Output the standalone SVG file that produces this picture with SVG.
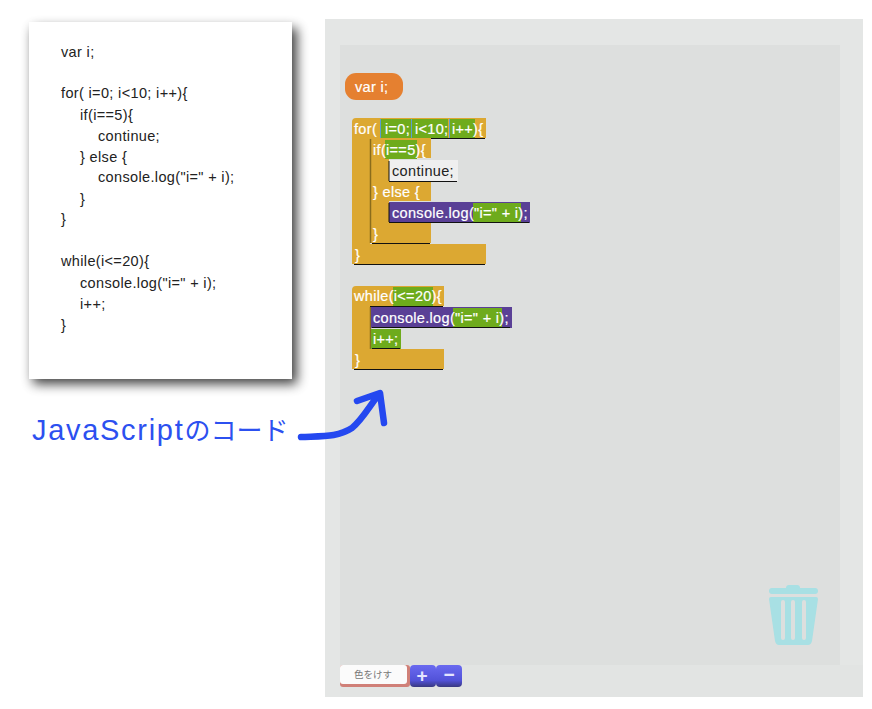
<svg xmlns="http://www.w3.org/2000/svg" width="872" height="709" viewBox="0 0 872 709">
<style>
.code{font-family:"Liberation Sans",Arial,sans-serif;font-size:14.5px;letter-spacing:.35px;fill:#222}
.b{font-family:"Liberation Sans",Arial,sans-serif;font-size:14.5px;letter-spacing:.32px;fill:#fff;stroke:#fff;stroke-width:.2px}
.k{fill:#dca832}.g{fill:#6eab1c}.p{fill:#5a4096}
.u{stroke:#111;stroke-width:1;fill:none}
.t{font-family:"Liberation Sans",Arial,sans-serif;font-size:19px;font-weight:bold;fill:#e4e4ff}
</style>
<defs>
<filter id="sh" x="-20%" y="-20%" width="140%" height="140%"><feGaussianBlur stdDeviation="6"/></filter>
<linearGradient id="btn" x1="0" y1="0" x2="0" y2="1"><stop offset="0" stop-color="#6a6af0"/><stop offset="0.7" stop-color="#5252d8"/><stop offset="1" stop-color="#383880"/></linearGradient>
</defs>
<rect width="872" height="709" fill="#fff"/>
<g id="panel">
<rect x="325" y="19" width="538" height="678" fill="#e4e6e5"/>
<rect x="340" y="45" width="500" height="620" fill="#dddfde"/>
</g>
<g id="code-sheet">
<rect x="33" y="28" width="264" height="356" fill="#000" opacity="0.75" filter="url(#sh)"/>
<rect x="29" y="22" width="263" height="357" fill="#fff"/>
<text class="code" x="61" y="57">var i;</text>
<text class="code" x="61" y="98">for( i=0; i&lt;10; i++){</text>
<text class="code" x="80" y="120">if(i==5){</text>
<text class="code" x="98" y="141">continue;</text>
<text class="code" x="80" y="162">} else {</text>
<text class="code" x="98" y="182">console.log("i=" + i);</text>
<text class="code" x="80" y="204">}</text>
<text class="code" x="61" y="224">}</text>
<text class="code" x="61" y="266">while(i&lt;=20){</text>
<text class="code" x="80" y="288">console.log("i=" + i);</text>
<text class="code" x="80" y="309">i++;</text>
<text class="code" x="61" y="330">}</text>
</g>
<g id="var-block">
<rect x="345" y="73" width="58" height="27" rx="11" fill="#e58030"/>
<text class="b" x="355" y="92">var i;</text>
</g>
<g id="for-block">
<path class="k" d="M352 122Q352 118 356 118H486V138H370V244H486V264H352Z"/>
<rect class="g" x="381" y="119" width="30" height="19"/>
<rect class="g" x="412" y="119" width="36" height="19"/>
<rect class="g" x="450" y="119" width="25" height="19"/>
<path d="M380.500 119V138M411.500 119V138M449.500 119V138" stroke="#5a9ed0" fill="none"/>
<path class="u" d="M370 138.500H485M354 264.500H485"/>
<text class="b" x="354" y="134">for(</text>
<text class="b" x="385" y="134">i=0;</text>
<text class="b" x="415" y="134">i&lt;10;</text>
<text class="b" x="452" y="134">i++){</text>
<text class="b" x="355" y="260">}</text>
</g>
<g id="if-block">
<path class="k" d="M370 138H431V158H389V181H431V201H389V222H431V243H370Z"/>
<rect class="g" x="385" y="140" width="32" height="19"/>
<path d="M370.500 139V243" stroke="#8a6c1c" stroke-width="1.500"/>
<path class="u" d="M372 243.500H430"/>
<text class="b" x="373" y="155">if(i==5){</text>
<text class="b" x="373" y="197">} else {</text>
<text class="b" x="373" y="239">}</text>
</g>
<g id="continue-block">
<rect x="389" y="160" width="69" height="21" fill="#efefef"/>
<path class="u" d="M389 161V181M389 181.500H457"/>
<text class="code" x="392" y="176">continue;</text>
</g>
<g id="log-block-1">
<rect class="p" x="389" y="202" width="141" height="21"/>
<rect class="g" x="473" y="203" width="48" height="19"/>
<path class="u" d="M389 203V222M389 222.500H529"/>
<text class="b" x="392" y="218">console.log("i=" + i);</text>
</g>
<g id="while-block">
<path class="k" d="M352 290Q352 286 356 286H444V306H370V349H444V369H352Z"/>
<rect class="g" x="393" y="287" width="40" height="19"/>
<path class="u" d="M370 306.500H443M354 369.500H443"/>
<path d="M370.500 307V349" stroke="#8a6c1c" stroke-width="1.500"/>
<text class="b" x="354" y="301">while(i&lt;=20){</text>
<text class="b" x="355" y="365">}</text>
</g>
<g id="log-block-2">
<rect class="p" x="371" y="307" width="141" height="21"/>
<rect class="g" x="453" y="308" width="49" height="19"/>
<path class="u" d="M372 327.500H510"/>
<text class="b" x="373" y="323">console.log("i=" + i);</text>
</g>
<g id="inc-block">
<rect class="g" x="371" y="329" width="30" height="20"/>
<path class="u" d="M372 348.500H400"/>
<text class="b" x="373" y="344">i++;</text>
</g>
<g id="caption">
<text x="32" y="440" font-family="'Liberation Sans','Noto Sans CJK JP',sans-serif" font-size="29" fill="#2c50f0"><tspan letter-spacing="1.700">JavaScript</tspan><tspan font-size="26">のコード</tspan></text>
</g>
<g id="connectors">
<path d="M301 437C325 436 338 437 352 428C362 420 369 407 379 394M357 401L380 393L384 423" fill="none" stroke="#2448f0" stroke-width="6.500" stroke-linecap="round" stroke-linejoin="round"/>
</g>
<g id="trash" fill="#a8e0e4">
<rect x="769" y="588" width="49" height="6" rx="3"/>
<rect x="786" y="585" width="14" height="6" rx="3"/>
<path fill-rule="evenodd" d="M769 599Q769 597 771 597H816Q818 597 818 599L812 641Q811 645 808 645H779Q776 645 775 641ZM781 602V638A2 2 0 0 0 785 638V602A2 2 0 0 0 781 602ZM791 602V638A2 2 0 0 0 795 638V602A2 2 0 0 0 791 602ZM802 602V638A2 2 0 0 0 806 638V602A2 2 0 0 0 802 602Z"/>
</g>
<g id="toolbar-bg">
<rect x="340" y="665" width="523" height="32" fill="#e2e4e3"/>
</g>
<g id="color-button">
<rect x="340" y="665" width="70" height="22" rx="3" fill="#d08078"/>
<rect x="340" y="665" width="67" height="19" rx="3" fill="#fbfbfb"/>
<text x="373" y="678" text-anchor="middle" font-family="'Noto Sans CJK JP',sans-serif" font-size="9.500" fill="#777">色をけす</text>
</g>
<g id="plus-button">
<rect x="410" y="665" width="26" height="22" rx="4" fill="url(#btn)"/>
<text class="t" x="422" y="682" text-anchor="middle">+</text>
</g>
<g id="minus-button">
<rect x="436" y="665" width="26" height="22" rx="4" fill="url(#btn)"/>
<text class="t" x="449" y="681" text-anchor="middle">−</text>
</g>
</svg>
